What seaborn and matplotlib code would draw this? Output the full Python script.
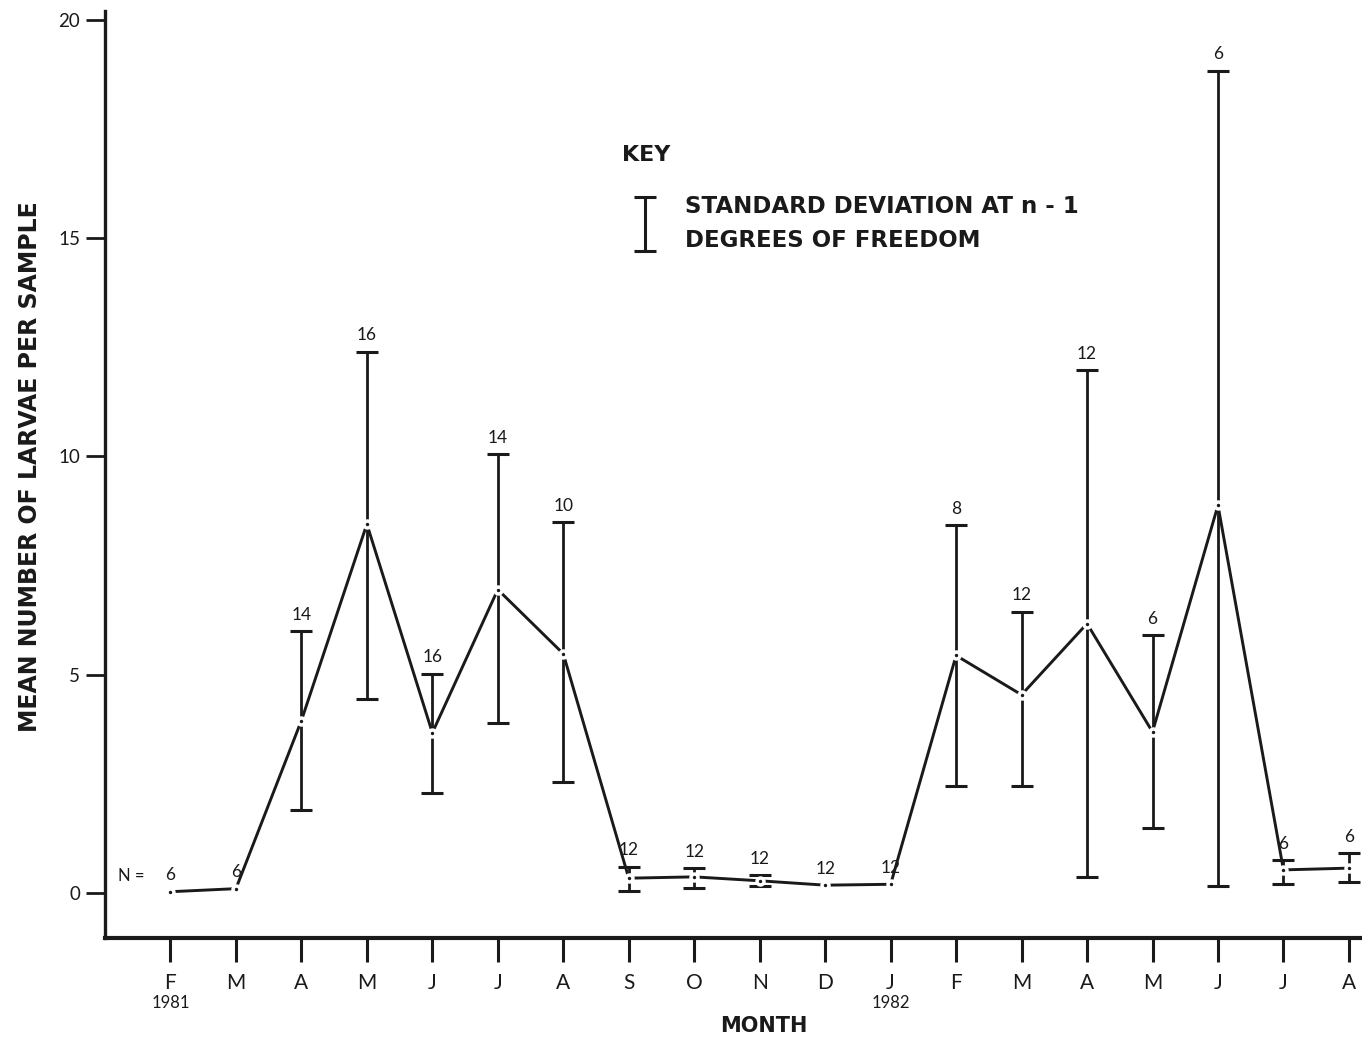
import numpy as np
import pandas as pd
import matplotlib
matplotlib.use("Agg")
import matplotlib.pyplot as plt
import seaborn as sns

# Monthly samples, February 1981 to August 1982
months = ["F", "M", "A", "M", "J", "J", "A", "S", "O", "N", "D",
          "J", "F", "M", "A", "M", "J", "J", "A"]
years = {0: "1981", 11: "1982"}
mean_larvae = [0.03, 0.1, 3.95, 8.45, 3.67, 6.95, 5.48, 0.34, 0.37, 0.28,
               0.18, 0.2, 5.44, 4.54, 6.17, 3.69, 8.88, 0.53, 0.57]
sd_low = [np.nan, np.nan, 1.9, 4.45, 2.3, 3.9, 2.55, 0.05, 0.11, 0.16,
          np.nan, np.nan, 2.45, 2.45, 0.37, 1.49, 0.16, 0.2, 0.25]
sd_high = [np.nan, np.nan, 6.0, 12.4, 5.02, 10.05, 8.5, 0.6, 0.57, 0.41,
           np.nan, np.nan, 8.42, 6.44, 11.97, 5.9, 18.83, 0.76, 0.92]
n_samples = [6, 6, 14, 16, 16, 14, 10, 12, 12, 12, 12, 12, 8, 12, 12, 6, 6, 6, 6]

df = pd.DataFrame({"pos": np.arange(len(months)), "mean": mean_larvae,
                   "low": sd_low, "high": sd_high, "n": n_samples})

sns.set_style("ticks")
plt.rcParams["font.family"] = ["Lato", "DejaVu Sans"]

fig = plt.figure(figsize=(13.62, 10.40), dpi=100)
ax = fig.add_axes([105 / 1362, 102 / 1040, 1 - 105 / 1362, 927 / 1040])

ink = "#1a1a1a"

# standard deviation bars
bars = df.dropna()
ax.errorbar(bars["pos"], bars["mean"],
            yerr=[bars["mean"] - bars["low"], bars["high"] - bars["mean"]],
            fmt="none", ecolor=ink, elinewidth=2.0, capsize=8, capthick=2.2,
            zorder=2)

# mean line with dots
sns.lineplot(data=df, x="pos", y="mean", ax=ax, color=ink, linewidth=2.1,
             marker="o", markersize=5, markerfacecolor=ink,
             markeredgecolor="white", markeredgewidth=2.5, zorder=3)

# sample sizes above each bar (or point)
for _, r in df.iterrows():
    top = r["high"] if not np.isnan(r["high"]) else r["mean"]
    ax.annotate(f"{int(r['n'])}", (r["pos"], top), xytext=(0, 6),
                textcoords="offset points", ha="center", va="bottom",
                fontsize=12.5, color=ink)
ax.annotate("N =", (0, mean_larvae[0]), xytext=(-28, 11),
            textcoords="offset points", ha="center", va="center",
            fontsize=12, color=ink)

ax.set_xlim(-1.0, 18.2)
ax.set_ylim(-1.03, 20.2)
ax.set_yticks([0, 5, 10, 15, 20])
ax.set_xticks(df["pos"])
ax.set_xticklabels(months, fontsize=15, color=ink)
ax.tick_params(axis="x", length=17, width=2.2, pad=8, colors=ink)
ax.tick_params(axis="y", length=14, width=2.0, labelsize=13.5, pad=4, colors=ink)

for pos, yr in years.items():
    ax.annotate(yr, (pos, 0), xycoords=("data", "axes fraction"),
                xytext=(0, -41), textcoords="offset points",
                ha="center", va="top", fontsize=12, color=ink)

sns.despine(ax=ax)
ax.spines["left"].set_linewidth(2.4)
ax.spines["bottom"].set_linewidth(3.0)
ax.spines["left"].set_color(ink)
ax.spines["bottom"].set_color(ink)

ax.set_ylabel("MEAN NUMBER OF LARVAE PER SAMPLE", fontsize=17,
              fontweight="bold", family="DejaVu Sans", color=ink)
ax.yaxis.set_label_coords(-0.050, 0.509)
ax.set_xlabel("MONTH", fontsize=15, fontweight="bold",
              family="DejaVu Sans", color=ink)
ax.xaxis.set_label_coords(0.524, -0.084)

# key
ax.text(6.9, 16.9, "KEY", fontsize=16, fontweight="bold",
        family="DejaVu Sans", color=ink, va="center")
ax.errorbar([7.25], [15.33], yerr=[[0.62], [0.62]], fmt="none", ecolor=ink,
            elinewidth=2.2, capsize=8, capthick=2.2)
ax.text(7.86, 15.72, "STANDARD DEVIATION AT n - 1", fontsize=16.5,
        fontweight="bold", family="DejaVu Sans", color=ink, va="center")
ax.text(7.86, 14.94, "DEGREES OF FREEDOM", fontsize=16.5,
        fontweight="bold", family="DejaVu Sans", color=ink, va="center")

fig.savefig("out.png", dpi=100, facecolor="white")
